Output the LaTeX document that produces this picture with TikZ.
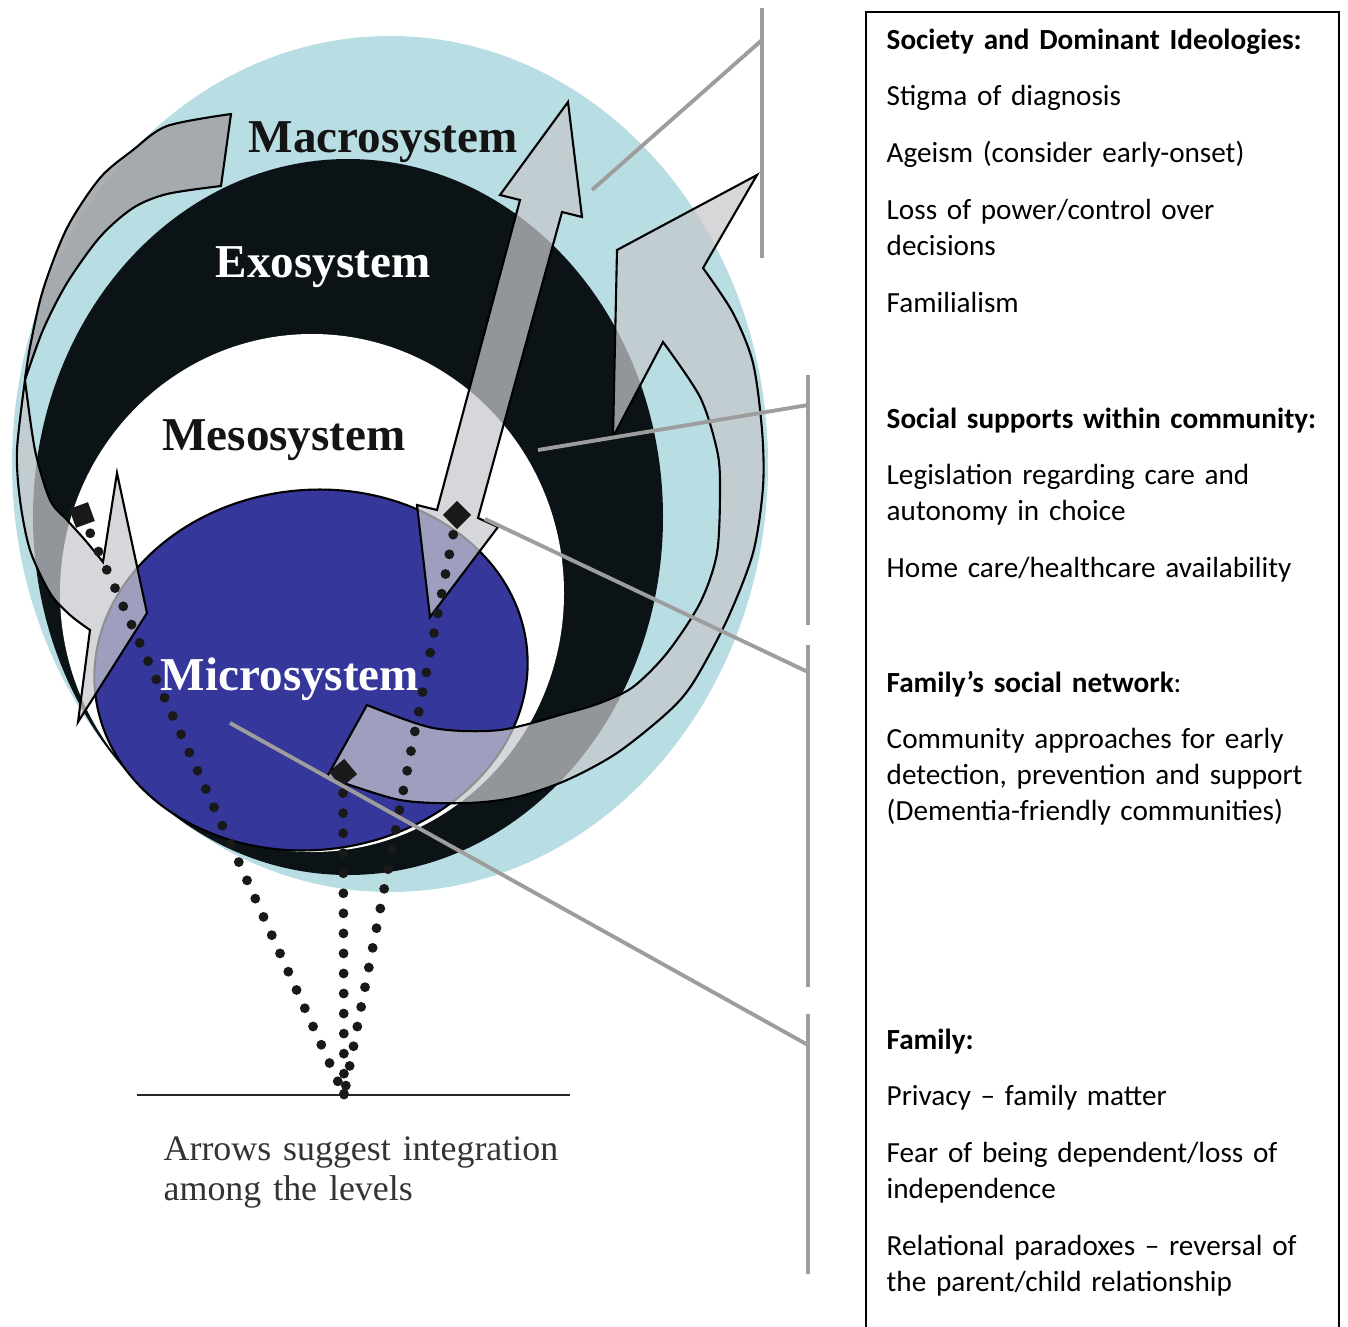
\documentclass[tikz,border=0pt]{standalone}
\usepackage{fontspec}
\setmainfont{Liberation Serif}
\newfontfamily\calfont{Carlito}
\usepackage{tikz}
\usetikzlibrary{positioning}
\definecolor{macroblue}{HTML}{B8DDE3}
\definecolor{exoblack}{HTML}{0C1316}
\definecolor{microblue}{HTML}{35379A}
\definecolor{bandgray}{HTML}{C7C8CC}
\definecolor{banddark}{HTML}{A2A3A7}
\definecolor{leadergray}{HTML}{9D9D9D}
\definecolor{labelblack}{HTML}{141414}

\begin{document}
\begin{tikzpicture}[x=0.01cm, y=-0.01cm,
    band/.style={fill=bandgray, fill opacity=0.72, draw=black, line width=0.6pt},
    darkband/.style={fill=banddark, fill opacity=0.88, draw=black, line width=0.6pt},
    dotline/.style={black!90, line width=2.8pt, line cap=round, dash pattern=on 0pt off 5.7pt},
    sqmark/.style={fill=black!90, minimum size=0.2cm, inner sep=0pt},
    leader/.style={leadergray, line width=1.1pt},
    syslabel/.style={font=\fontsize{13.4}{16}\selectfont\bfseries, anchor=base},
    boxtext/.style={font=\calfont\fontsize{8.3}{10.2}\selectfont, text width=4.45cm, align=left, anchor=base west, inner sep=0pt}]
  \useasboundingbox (0,0) rectangle (1348,1327);

  % Nested systems
  \fill[macroblue] (390,464) ellipse [x radius=378, y radius=428];
  \fill[exoblack] (348,517) ellipse [x radius=315, y radius=358];
  \fill[white] (312,593) ellipse [x radius=252, y radius=259];
  \filldraw[fill=microblue, draw=black, line width=0.6pt] (311,670) ellipse [x radius=217, y radius=180, rotate=6];

  % Left arrow, back side then front side
  \draw[darkband] (231,114) -- plot[smooth] coordinates {(231,114) (167,126) (133,150) (100,178) (67,228) (43,290) (30,347) (25,380)}
    -- plot[smooth] coordinates {(25,380) (43,330) (67,283) (100,237) (133,208) (167,194) (221,186)} -- cycle;
  \draw[band] (25,380) -- plot[smooth] coordinates {(25,380) (17,450) (20,500) (30,550) (50,593) (70,615) (90,630)}
    -- (78,722) -- (147,613) -- (117,473) -- (103,562)
    -- plot[smooth] coordinates {(103,562) (85,540) (67,520) (50,500) (35,450) (25,380)} -- cycle;

  % Double arrow
  \draw[band] (568,102) -- (582,217) -- (562,212) -- (478,518) -- (498,527) -- (430,617)
    -- (417,505) -- (437,510) -- (520,200) -- (500,195) -- cycle;

  % Right arrow round the bottom
  \draw[band] (327,777) -- plot[smooth] coordinates {(327,777) (400,800) (467,803) (517,797) (567,780) (617,753) (667,713) (693,683) (727,620) (753,553) (763,487) (762,430) (753,363) (733,313) (703,268)}
    -- (757,175) -- (617,250) -- (613,437) -- (663,342)
    -- plot[smooth] coordinates {(663,342) (700,397) (717,450) (720,487) (717,553) (700,603) (667,653) (633,687) (600,703) (567,713) (500,730) (433,728) (367,705)} -- cycle;

  % Dotted lines down to the base
  \coordinate (base) at (344,1095);
  \coordinate (baseL) at (137,1095);
  \coordinate (baseR) at (570,1095);
  \node[sqmark, rotate=20] (sqleft) at (82,515) {};
  \node[sqmark, rotate=45] (sqright) at (457,515) {};
  \node[sqmark, rotate=40] (sqlow) at (343,773) {};
  \draw[dotline] (sqleft.center) -- (base);
  \draw[dotline] (sqright.center) -- (base);
  \draw[dotline] (sqlow.center) -- (base);
  \draw[black!85, line width=0.7pt] (baseL) -- (baseR);
  \fill[black!90] (base) circle (4.5);

  % Leaders to the text box
  \coordinate (macroPt) at (592,190);
  \coordinate (exoPt) at (538,450);
  \coordinate (mesoPt) at (485,519);
  \coordinate (microPt) at (230,723);
  \coordinate (brA) at (762,8);   \coordinate (brAj) at (762,40);   \coordinate (brAe) at (762,258);
  \coordinate (brB) at (808,375); \coordinate (brBj) at (808,405);  \coordinate (brBe) at (808,625);
  \coordinate (brC) at (808,645); \coordinate (brCj) at (808,672);  \coordinate (brCe) at (808,987);
  \coordinate (brD) at (808,1014);\coordinate (brDj) at (808,1045); \coordinate (brDe) at (808,1274);
  \draw[leader] (brA) -- (brAe);
  \draw[leader] (brB) -- (brBe);
  \draw[leader] (brC) -- (brCe);
  \draw[leader] (brD) -- (brDe);
  \draw[leader] (macroPt) -- (brAj);
  \draw[leader] (exoPt) -- (brBj);
  \draw[leader] (mesoPt) -- (brCj);
  \draw[leader] (microPt) -- (brDj);

  % System names
  \node[syslabel, text=labelblack] (macro) at (383,152) {Macrosystem};
  \node[syslabel, text=white] (exo) at (323,277) {Exosystem};
  \node[syslabel, text=labelblack] (meso) at (284,450) {Mesosystem};
  \node[syslabel, text=white] (micro) at (290,690) {Microsystem};
  \node[font=\fontsize{10.2}{11.4}\selectfont, text=black!80, text width=4.5cm, align=left, anchor=base west, inner sep=0pt] (caption) at (163,1160) {Arrows suggest integration\\among the levels};

  % Text box
  \draw[line width=0.6pt] (866,1327) |- (1339,12) -- (1339,1327);
  \node[boxtext] (society) at (886,49) {\textbf{Society and Dominant Ideologies:}\\[6pt]
    Stigma of diagnosis\\[6pt]
    Ageism (consider early-onset)\\[6pt]
    Loss of power/control over\\decisions\\[6pt]
    Familialism};
  \node[boxtext] (community) at (886,428) {\textbf{Social supports within community:}\\[6pt]
    Legislation regarding care and\\autonomy in choice\\[6pt]
    Home care/healthcare availability};
  \node[boxtext] (network) at (886,692) {\textbf{Family’s social network}:\\[6pt]
    Community approaches for early\\detection, prevention and support\\(Dementia-friendly communities)};
  \node[boxtext] (family) at (886,1049) {\textbf{Family:}\\[6pt]
    Privacy – family matter\\[6pt]
    Fear of being dependent/loss of\\independence\\[6pt]
    Relational paradoxes – reversal of\\the parent/child relationship};
\end{tikzpicture}
\end{document}
